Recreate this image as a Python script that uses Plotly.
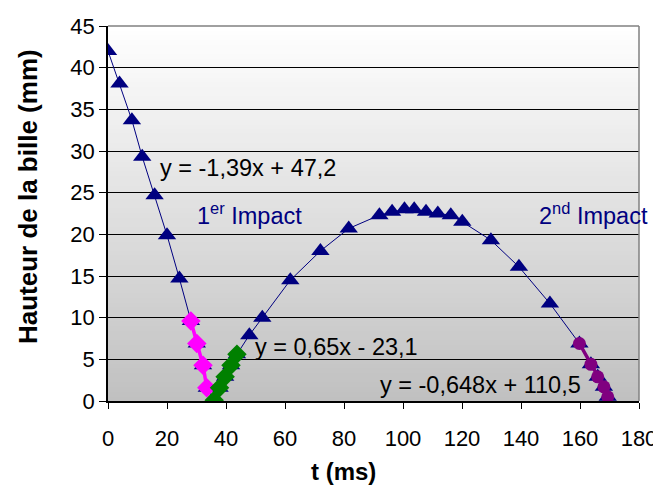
import plotly.graph_objects as go

# Main trajectory (blue triangles)
t_all = [0, 3.9, 8.1, 11.6, 15.8, 20.0, 24.2, 28.1, 30.1, 32.2, 33.5, 36.0, 37.8, 39.7, 41.7, 43.7,
         47.9, 52.3, 61.8, 72.0, 81.6, 92.0, 96.3, 100.5, 103.8, 107.8, 111.8, 116.2, 120.1,
         129.8, 139.3, 149.8, 159.8, 163.7, 166.0, 168.1, 169.4]
h_all = [42.0, 38.1, 33.7, 29.3, 24.7, 19.9, 14.7, 9.6, 6.9, 4.3, 1.6, 0.1, 1.6, 2.9, 4.3, 5.6,
         7.9, 10.0, 14.5, 18.0, 20.7, 22.3, 22.7, 23.0, 23.0, 22.7, 22.5, 22.3, 21.5,
         19.3, 16.1, 11.7, 6.9, 4.4, 2.9, 1.7, 0.5]

# 1st impact, before (magenta)
t_imp1a = [28.1, 30.1, 32.2, 33.5]
h_imp1a = [9.6, 6.9, 4.3, 1.6]

# 1st impact, after (green)
t_imp1b = [36.0, 37.8, 39.7, 41.7, 43.7]
h_imp1b = [0.1, 1.6, 2.9, 4.3, 5.6]

# 2nd impact (purple)
t_imp2 = [159.8, 163.7, 166.0, 168.1, 169.4]
h_imp2 = [6.9, 4.4, 2.9, 1.7, 0.5]

x_ticks = list(range(0, 181, 20))
y_ticks = list(range(0, 46, 5))

FONT = "Liberation Sans, Arial, sans-serif"
NAVY = "#000080"

fig = go.Figure()
fig.add_trace(go.Scatter(x=t_all, y=h_all, mode="lines+markers",
                         line=dict(color=NAVY, width=1),
                         marker=dict(symbol="triangle-up", size=16, color=NAVY),
                         showlegend=False))
fig.add_trace(go.Scatter(x=t_imp1a, y=h_imp1a, mode="lines+markers",
                         line=dict(color="#FF00FF", width=3.5),
                         marker=dict(symbol="diamond", size=15, color="#FF00FF"),
                         showlegend=False))
fig.add_trace(go.Scatter(x=t_imp1b, y=h_imp1b, mode="lines+markers",
                         line=dict(color="#008000", width=3.5),
                         marker=dict(symbol="diamond", size=15, color="#008000"),
                         showlegend=False))
fig.add_trace(go.Scatter(x=t_imp2, y=h_imp2, mode="lines+markers",
                         line=dict(color="#800080", width=3.5),
                         marker=dict(symbol="circle", size=13, color="#800080"),
                         showlegend=False))

# Vertical gradient background (white -> gray)
shapes = []
N = 80
for i in range(N):
    f = (i + 0.5) / N  # 0 at bottom, 1 at top
    v = int(round(0xC0 + (0xFF - 0xC0) * f))
    col = f"rgb({v},{v},{v})"
    shapes.append(dict(type="rect", xref="paper", yref="paper",
                       x0=0, x1=1, y0=i / N, y1=(i + 1) / N + 0.002,
                       fillcolor=col, line=dict(width=0), layer="below"))
# top and right gray border
shapes.append(dict(type="line", xref="paper", yref="paper", x0=0, x1=1, y0=1, y1=1,
                   line=dict(color="#808080", width=1.5)))
shapes.append(dict(type="line", xref="paper", yref="paper", x0=1, x1=1, y0=0, y1=1,
                   line=dict(color="#808080", width=1.5)))

AF = 23.5
annotations = [
    dict(x=0.094, y=0.621, xref="paper", yref="paper", xanchor="left", yanchor="middle",
         text="y = -1,39x + 47,2", showarrow=False, font=dict(size=AF, color="black", family=FONT)),
    dict(x=0.164, y=0.50, xref="paper", yref="paper", xanchor="left", yanchor="middle",
         text="1<sup>er</sup> Impact", showarrow=False, font=dict(size=AF, color=NAVY, family=FONT)),
    dict(x=0.808, y=0.50, xref="paper", yref="paper", xanchor="left", yanchor="middle",
         text="2<sup>nd</sup> Impact", showarrow=False, font=dict(size=AF, color=NAVY, family=FONT)),
    dict(x=0.273, y=0.144, xref="paper", yref="paper", xanchor="left", yanchor="middle",
         text="y = 0,65x - 23,1", showarrow=False, font=dict(size=AF, color="black", family=FONT)),
    dict(x=0.508, y=0.043, xref="paper", yref="paper", xanchor="left", yanchor="middle",
         text="y = -0,648x + 110,5", showarrow=False, font=dict(size=AF, color="black", family=FONT)),
    # axis titles
    dict(x=0.4426, y=-0.187, xref="paper", yref="paper", xanchor="center", yanchor="middle",
         text="<b>t (ms)</b>", showarrow=False, font=dict(size=24, color="black", family=FONT)),
    dict(x=-0.151, y=0.546, xref="paper", yref="paper", xanchor="center", yanchor="middle",
         text="<b>Hauteur de la bille (mm)</b>", textangle=-90, showarrow=False,
         font=dict(size=26, color="black", family=FONT)),
]

# The page body adds an 8px offset; the figure is sized to fit the visible window.
fig.update_layout(
    width=653, height=480,
    margin=dict(l=100, r=22, t=18, b=87),
    paper_bgcolor="white", plot_bgcolor="white",
    font=dict(family=FONT, size=22, color="black"),
    shapes=shapes, annotations=annotations,
    xaxis=dict(range=[0, 180], tickvals=x_ticks, ticktext=[str(v) for v in x_ticks],
               ticks="outside", ticklen=6, tickcolor="black", showgrid=False,
               showline=True, linecolor="black", linewidth=1.5, zeroline=False,
               tickfont=dict(size=22, family=FONT), automargin=False,
               ticklabelstandoff=11),
    yaxis=dict(range=[0, 45], tickvals=y_ticks, ticktext=[str(v) for v in y_ticks],
               ticks="outside", ticklen=7, tickcolor="black",
               showgrid=True, gridcolor="black", gridwidth=1,
               showline=True, linecolor="black", linewidth=1.5, zeroline=False,
               tickfont=dict(size=22, family=FONT), automargin=False),
)

fig.write_html("out.html")
